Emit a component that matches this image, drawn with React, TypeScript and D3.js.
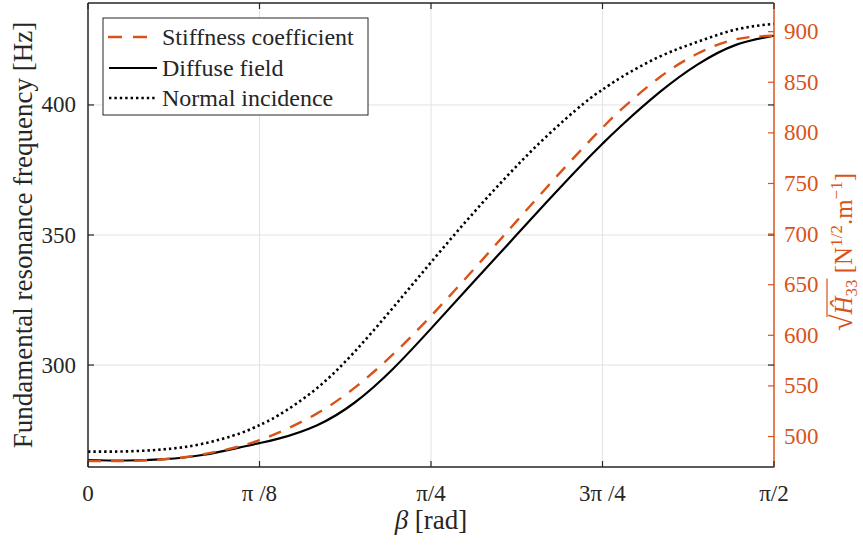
import React, { useLayoutEffect, useRef, useState } from 'react';
import * as d3 from 'd3';

const betaDeg = [0, 5, 10, 15, 20, 22.5, 25, 30, 35, 40, 45, 50, 55, 60, 65, 67.5, 70, 75, 80, 85, 90];
const stiffness = [475.8, 475.9, 477.6, 482.3, 490.5, 496.5, 503.8, 522.6, 548.3, 581.1, 619.1, 660.1, 702.3, 744.6, 785.6, 805.1, 823.4, 854.9, 878.4, 892.4, 896.0];
const diffuse = [263.5, 263.3, 263.8, 265.4, 268.4, 270.0, 271.7, 276.8, 285.6, 298.5, 314.0, 330.1, 346.1, 362.1, 377.7, 385.1, 392.1, 404.9, 415.6, 423.1, 426.6];
const normal = [266.7, 266.8, 267.6, 269.7, 273.8, 276.9, 280.7, 291.0, 305.2, 322.0, 339.5, 356.6, 372.7, 387.5, 400.5, 405.9, 410.7, 418.6, 424.3, 429.0, 431.2];

const xTicks = [0, 22.5, 45, 67.5, 90];
const xTickLabels = ['0', 'π /8', 'π/4', '3π /4', 'π/2'];
const leftTicks = [300, 350, 400];
const rightTicks = [500, 550, 600, 650, 700, 750, 800, 850, 900];
const legendLabels = ['Stiffness coefficient', 'Diffuse field', 'Normal incidence'];

const ORANGE = '#D95319';
const AXIS = '#262626';
const GRID = '#e2e2e2';
const FONT = '"Liberation Serif", "DejaVu Serif", serif';
const DASH = '13,10';
const DOT = '2.4,3';

export default function App() {
  const L = 88, R = 774, T = 3, B = 467;
  const x = d3.scaleLinear().domain([0, 90]).range([L, R]);
  const yL = d3.scaleLinear().domain([260.8, 439.2]).range([B, T]);
  const yR = d3.scaleLinear().domain([469.9, 928.3]).range([B, T]);

  const lineL = (vals: number[]) =>
    d3.line<number>().x((_, i) => x(betaDeg[i])).y((d) => yL(d)).curve(d3.curveNatural)(vals) || '';
  const lineR = (vals: number[]) =>
    d3.line<number>().x((_, i) => x(betaDeg[i])).y((d) => yR(d)).curve(d3.curveNatural)(vals) || '';

  const tickLen = 6;
  const legX = 103, legY = 18, legW = 265, legH = 97;
  const rowY = [37, 68, 98];

  const rtext = useRef<SVGTextElement>(null);
  const [bar, setBar] = useState<{ x1: number; x2: number; y: number } | null>(null);
  useLayoutEffect(() => {
    const el = rtext.current;
    if (!el) return;
    try {
      const e0 = el.getExtentOfChar(0);
      const e1 = el.getExtentOfChar(1);
      const e3 = el.getExtentOfChar(3);
      setBar({ x1: e0.x + e0.width * 0.85, x2: e3.x + e3.width + 1, y: Math.min(e0.y, e1.y) + 2 });
    } catch (err) {
      setBar(null);
    }
  }, []);

  return (
    <svg width={863} height={545} style={{ position: 'absolute', left: 0, top: 0, background: '#fff' }}
      fontFamily={FONT}>
      <rect x={0} y={0} width={863} height={545} fill="#fff" />
      {/* grid */}
      {xTicks.slice(1, -1).map((t) => (
        <line key={'gx' + t} x1={x(t)} x2={x(t)} y1={T} y2={B} stroke={GRID} strokeWidth={1} />
      ))}
      {leftTicks.map((t) => (
        <line key={'gy' + t} x1={L} x2={R} y1={yL(t)} y2={yL(t)} stroke={GRID} strokeWidth={1} />
      ))}

      {/* curves */}
      <path d={lineL(normal)} fill="none" stroke="#000" strokeWidth={2.6} strokeDasharray={DOT} />
      <path d={lineL(diffuse)} fill="none" stroke="#000" strokeWidth={2.2} />
      <path d={lineR(stiffness)} fill="none" stroke={ORANGE} strokeWidth={2.4} strokeDasharray={DASH} />

      {/* box */}
      <line x1={L} x2={R} y1={T} y2={T} stroke={AXIS} strokeWidth={1.5} />
      <line x1={L} x2={R} y1={B} y2={B} stroke={AXIS} strokeWidth={1.5} />
      <line x1={L} x2={L} y1={T} y2={B} stroke={AXIS} strokeWidth={1.5} />
      <line x1={R} x2={R} y1={T} y2={B + 0.75} stroke={ORANGE} strokeWidth={1.5} />

      {/* x ticks */}
      {xTicks.map((t, i) => (
        <g key={'xt' + t}>
          <line x1={x(t)} x2={x(t)} y1={B} y2={B - tickLen} stroke={AXIS} strokeWidth={1.2} />
          <line x1={x(t)} x2={x(t)} y1={T} y2={T + tickLen} stroke={AXIS} strokeWidth={1.2} />
          <text x={x(t)} y={501} textAnchor="middle" fontSize={23} fill={AXIS}>{xTickLabels[i]}</text>
        </g>
      ))}
      {/* left ticks */}
      {leftTicks.map((t) => (
        <g key={'yl' + t}>
          <line x1={L} x2={L + tickLen} y1={yL(t)} y2={yL(t)} stroke={AXIS} strokeWidth={1.2} />
          <line x1={R} x2={R - tickLen} y1={yL(t)} y2={yL(t)} stroke={AXIS} strokeWidth={1.2} />
          <text x={L - 12} y={yL(t) + 7.5} textAnchor="end" fontSize={23} fill={AXIS}>{t}</text>
        </g>
      ))}
      {/* right ticks */}
      {rightTicks.map((t) => (
        <g key={'yr' + t}>
          <line x1={R} x2={R - tickLen} y1={yR(t)} y2={yR(t)} stroke={ORANGE} strokeWidth={1.2} />
          <text x={R + 10} y={yR(t) + 7.5} textAnchor="start" fontSize={23} fill={ORANGE}>{t}</text>
        </g>
      ))}

      {/* axis labels */}
      <text x={(L + R) / 2} y={529} textAnchor="middle" fontSize={27} fill={AXIS}>
        <tspan fontStyle="italic">β</tspan> [rad]
      </text>
      <text transform={`translate(32, ${(T + B) / 2}) rotate(-90)`} textAnchor="middle" fontSize={27} fill={AXIS}>
        Fundamental resonance frequency [Hz]
      </text>
      <g transform={`translate(852, 252) rotate(-90)`}>
        <text ref={rtext} x={0} y={0} textAnchor="middle" fontSize={25} fill={ORANGE}>
          <tspan fontSize={30}>√</tspan>
          <tspan fontStyle="italic">Ĥ</tspan>
          <tspan fontSize={17} dy={5}>33</tspan>
          <tspan dy={-5}>{'\u00A0[N'}</tspan>
          <tspan fontSize={17} dy={-10}>1/2</tspan>
          <tspan dy={10}>.m</tspan>
          <tspan fontSize={17} dy={-10}>−1</tspan>
          <tspan dy={10}>]</tspan>
        </text>
        {bar && <line x1={bar.x1} x2={bar.x2} y1={bar.y} y2={bar.y} stroke={ORANGE} strokeWidth={1.2} />}
      </g>

      {/* legend */}
      <rect x={legX} y={legY} width={legW} height={legH} fill="#fff" stroke={AXIS} strokeWidth={1} />
      <line x1={108} x2={147} y1={rowY[0]} y2={rowY[0]} stroke={ORANGE} strokeWidth={2.4} strokeDasharray="14,11" />
      <line x1={109} x2={157} y1={rowY[1]} y2={rowY[1]} stroke="#000" strokeWidth={2.2} />
      <line x1={109} x2={157} y1={rowY[2]} y2={rowY[2]} stroke="#000" strokeWidth={2.6} strokeDasharray={DOT} />
      {legendLabels.map((s, i) => (
        <text key={s} x={162} y={rowY[i] + 8} fontSize={24} fill={AXIS}>{s}</text>
      ))}
    </svg>
  );
}
